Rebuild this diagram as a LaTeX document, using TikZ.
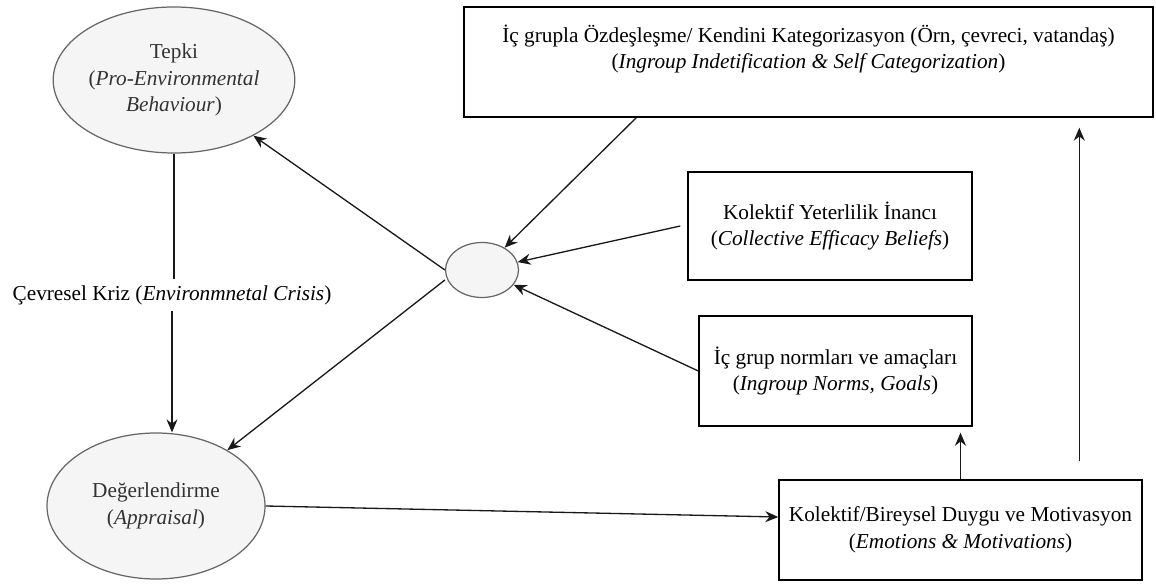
\documentclass[tikz,border=0pt]{standalone}
\usepackage{fontspec}
\setmainfont{Liberation Serif}
\usepackage{tikz}
\usetikzlibrary{shapes.geometric,arrows.meta}

\begin{document}
\begin{tikzpicture}[
	every node/.style={font=\fontsize{12.1}{15.3}\selectfont, align=center},
	oval/.style={ellipse, draw=black!60, fill=black!4, text=black!80, line width=0.7pt, inner sep=0pt},
	box/.style={rectangle, draw=black, line width=0.8pt, inner sep=0pt},
	arr/.style={black!90, line width=0.75pt, -{Stealth[length=2.6mm, width=2.2mm]}}
]
\useasboundingbox (0,0) rectangle (23.12,11.66);

\node[oval, minimum width=4.38cm, minimum height=2.92cm] (tepki) at (3.48,10.06) {Tepki\\(\textit{Pro-Environmental}\\\textit{Behaviour})};
\node (kriz) at (3.44,5.76) {Çevresel Kriz (\textit{Environmnetal Crisis})};
\node[oval, minimum width=4.36cm, minimum height=2.92cm] (deger) at (3.12,1.54) {Değerlendirme\\(\textit{Appraisal})};
\node[oval, minimum width=1.46cm, minimum height=1.1cm] (hub) at (9.64,6.26) {};

\node[box, minimum width=13.78cm, minimum height=2.2cm] (ident) at (16.17,10.42) {};
\node (identtxt) at (16.17,10.68) {İç grupla Özdeşleşme/ Kendini Kategorizasyon (Örn, çevreci, vatandaş)\\(\textit{Ingroup Indetification \& Self Categorization})};
\node[box, minimum width=5.68cm, minimum height=2.16cm] (eff) at (16.60,7.14) {Kolektif Yeterlilik İnancı\\(\textit{Collective Efficacy Beliefs})};
\node[box, minimum width=5.46cm, minimum height=2.2cm] (norm) at (16.71,4.24) {İç grup normları ve amaçları\\(\textit{Ingroup Norms, Goals})};
\node[box, minimum width=7.26cm, minimum height=2.0cm] (emo) at (19.21,1.06) {Kolektif/Bireysel Duygu ve Motivasyon\\(\textit{Emotions \& Motivations})};

\draw[black!90, line width=0.75pt] (tepki.south) -- (tepki.south |- kriz.north);
\draw[arr] (kriz.south) -- (kriz.south |- deger.north);
\draw[arr] ([xshift=3.46cm]ident.south west) -- (hub);
\draw[arr] ([xshift=-0.14cm]eff.west) -- (hub);
\draw[arr] (norm.west) -- (hub);
\draw[arr] (hub.west) -- (tepki);
\draw[arr] ([yshift=-0.2cm]hub.west) -- (deger);
\draw[arr] (deger.east) -- ([yshift=0.26cm]emo.west);
\draw[arr] (emo.north) -- ([yshift=-0.12cm]emo.north |- norm.south);
\draw[arr] ([shift={(6.02cm,0.36cm)}]emo.north west) -- ([shift={(6.02cm,-0.2cm)}]emo.north west |- ident.south);
\end{tikzpicture}
\end{document}
